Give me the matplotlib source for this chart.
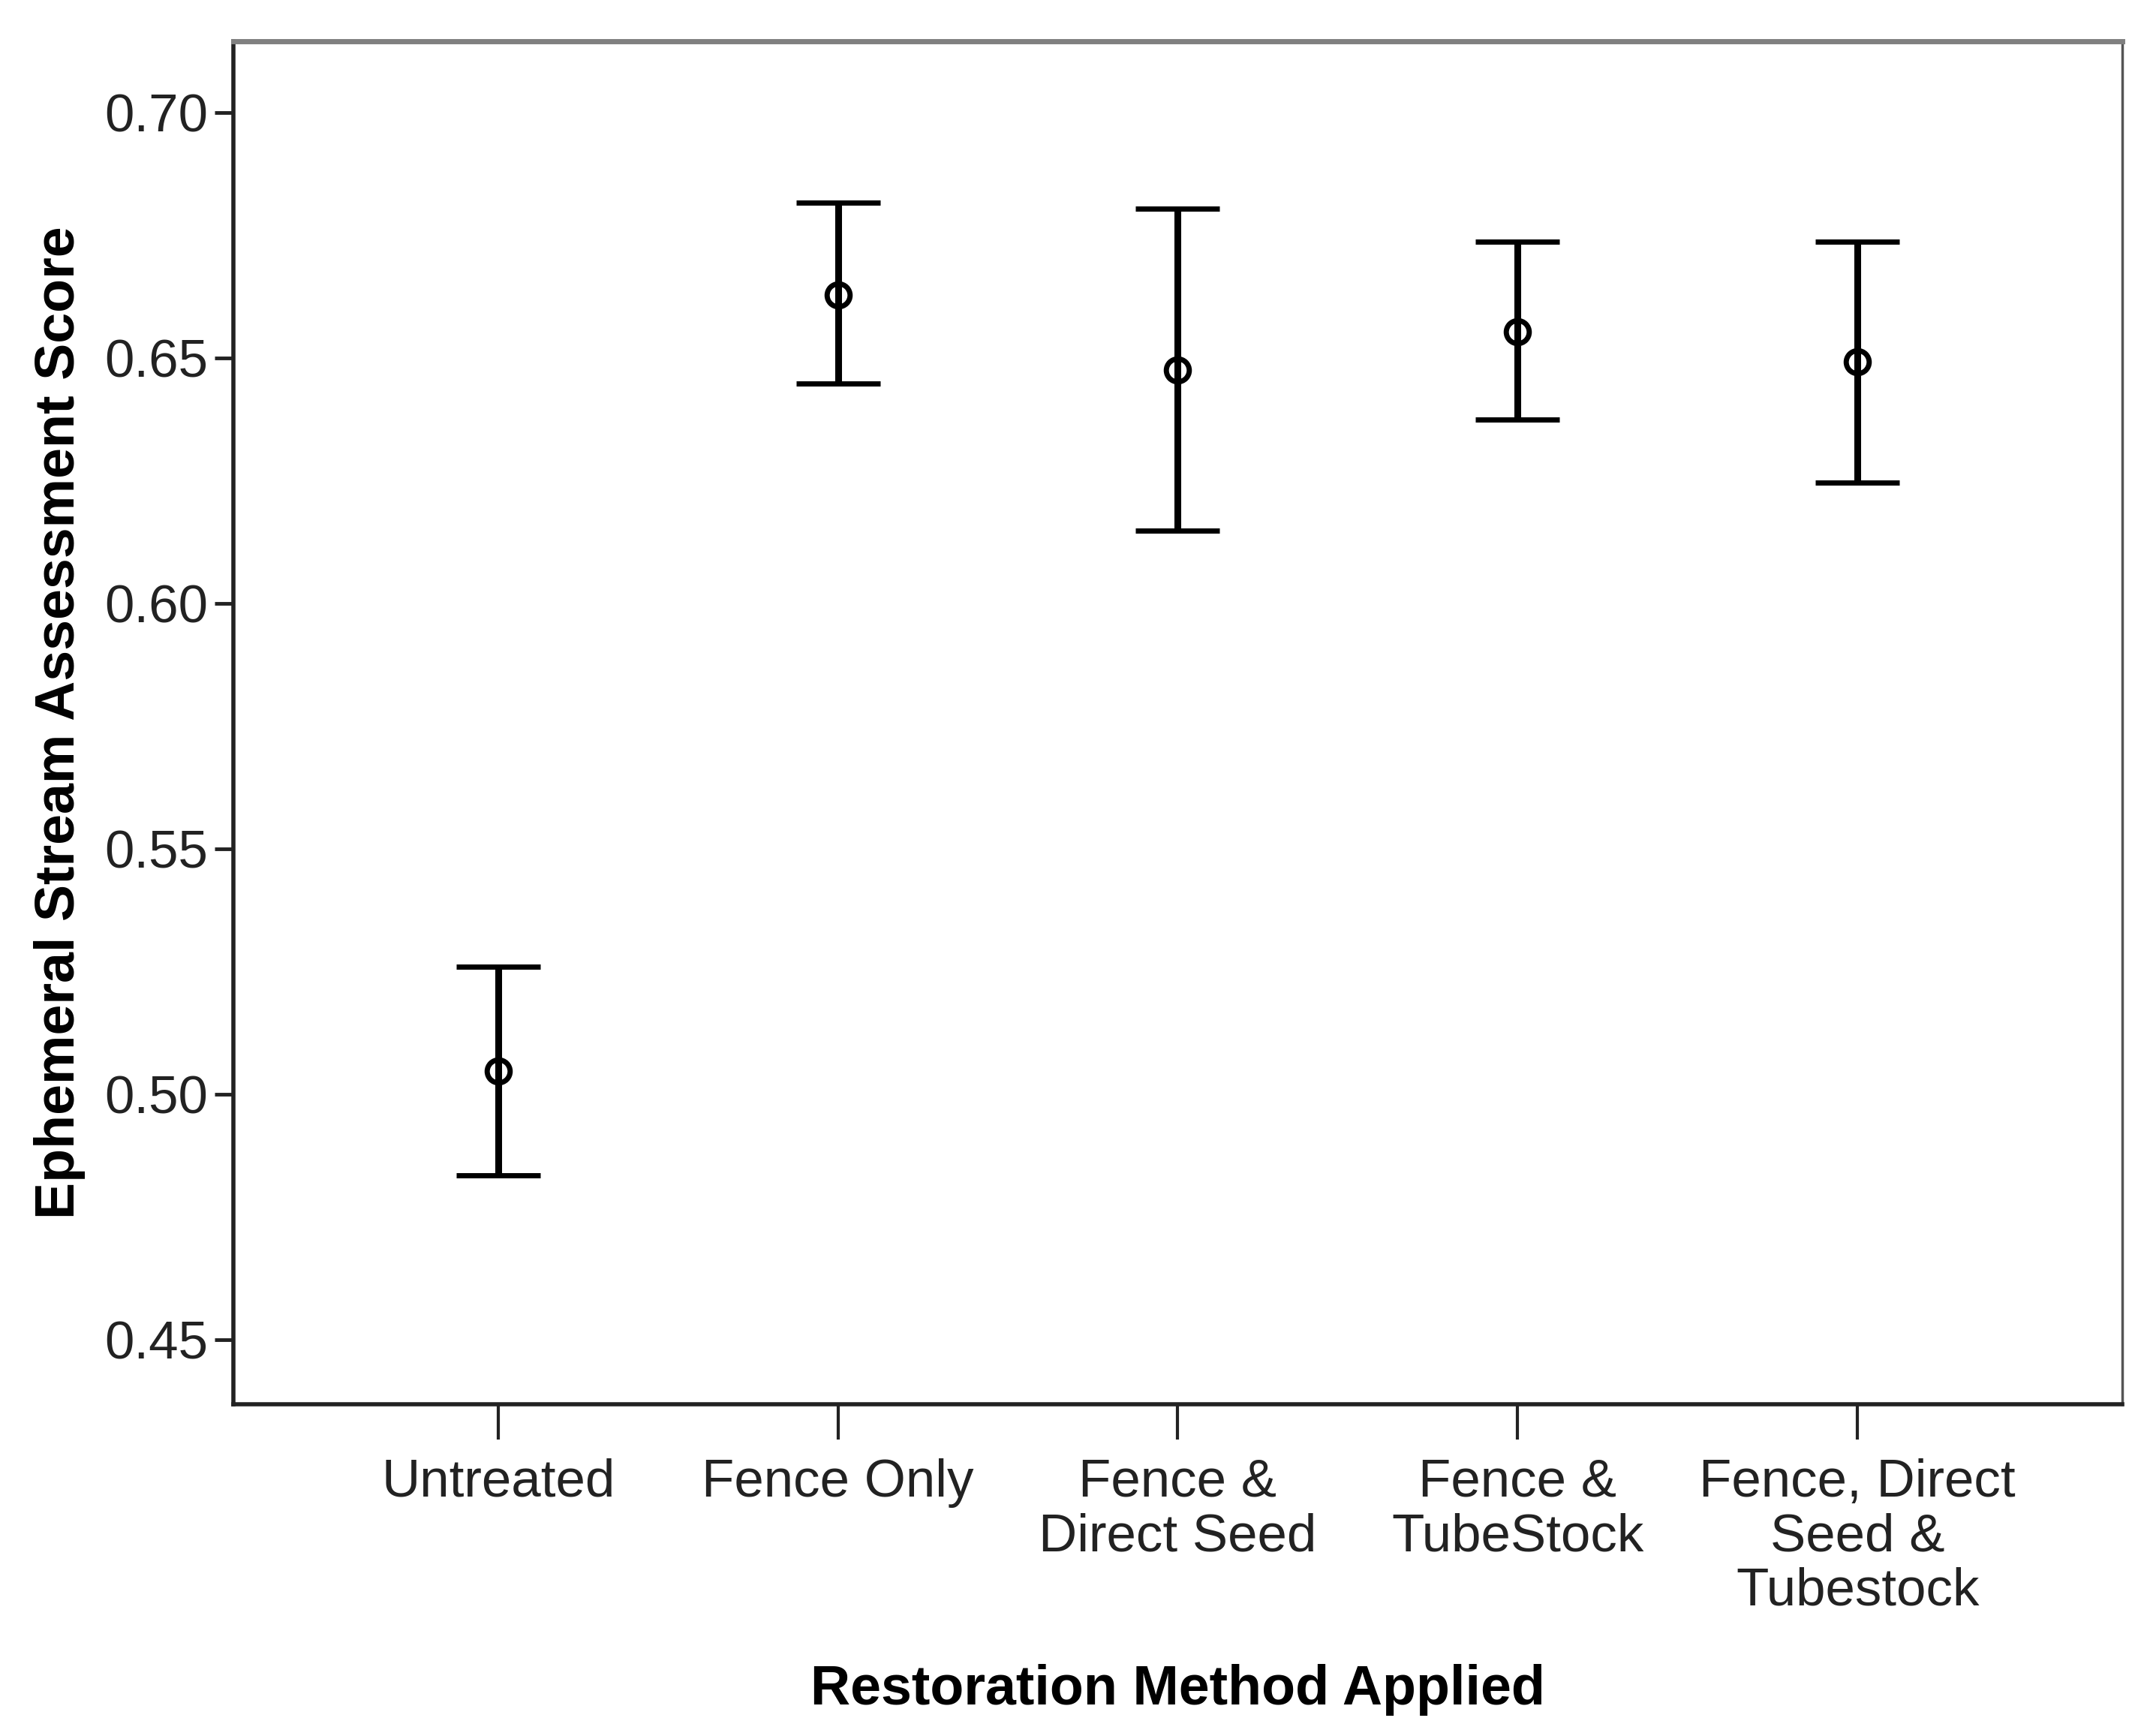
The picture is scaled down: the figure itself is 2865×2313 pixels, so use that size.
import matplotlib.pyplot as plt

# restoration groups and the mean / 95% CI
categories = ["Untreated", "Fence Only", "Fence &\nDirect Seed", "Fence &\nTubeStock",
              "Fence, Direct\nSeed &\nTubestock"]
means = [0.5047, 0.6628, 0.6475, 0.6553, 0.6492]
upper = [0.5260, 0.6816, 0.6804, 0.6737, 0.6737]
lower = [0.4835, 0.6447, 0.6148, 0.6374, 0.6246]
yticks = [0.45, 0.50, 0.55, 0.60, 0.65, 0.70]

plt.rcParams["font.family"] = ["Liberation Sans", "DejaVu Sans"]

fig = plt.figure(figsize=(28.65, 23.13), dpi=100)
ax = fig.add_axes([0.1084, 0.1912, 0.8788, 0.7851])

x = list(range(len(categories)))
err_lo = [m - l for m, l in zip(means, lower)]
err_hi = [u - m for m, u in zip(means, upper)]

ax.errorbar(x, means, yerr=[err_lo, err_hi], fmt="o", color="black",
            mfc="none", mec="black", ms=22, mew=5, elinewidth=6.5,
            capsize=40, capthick=6.5)

ax.set_xlim(-0.78, 4.78)
ax.set_ylim(0.4369, 0.7145)
ax.set_xticks(x)
ax.set_xticklabels(categories, fontsize=51, color="#222222", linespacing=1.12)
ax.set_yticks(yticks)
ax.set_yticklabels(["%.2f" % v for v in yticks], fontsize=51, color="#222222")

ax.tick_params(axis="y", direction="out", length=18, width=3.5, pad=6, color="#222222")
ax.tick_params(axis="x", direction="out", length=34, width=3, pad=18, color="#222222")

for side in ["left", "bottom"]:
    ax.spines[side].set_color("#222222")
    ax.spines[side].set_linewidth(4)
ax.spines["top"].set_color("#808080")
ax.spines["top"].set_linewidth(5)
ax.spines["right"].set_color("#555555")
ax.spines["right"].set_linewidth(2.5)

ax.set_ylabel("Ephemeral Stream Assessment Score", fontsize=53, fontweight="bold", labelpad=18)
ax.set_xlabel("Restoration Method Applied", fontsize=53, fontweight="bold", labelpad=46)

fig.savefig("out.png", dpi=100)
